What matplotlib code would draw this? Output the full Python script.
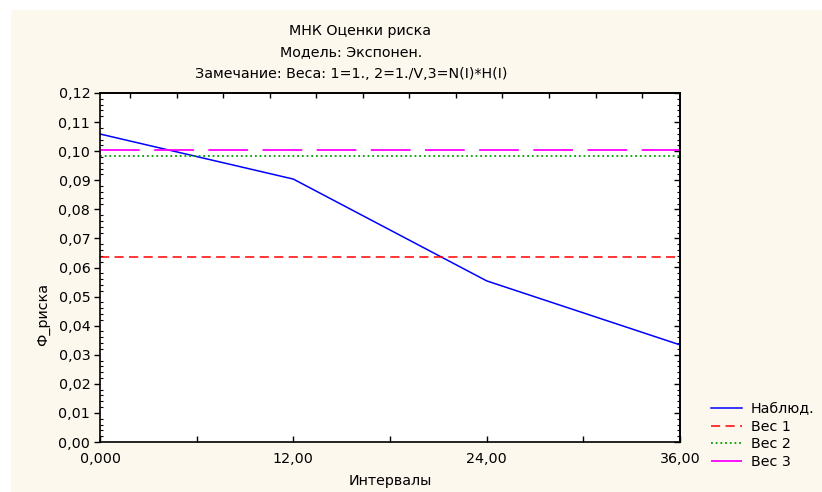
import numpy as np
import matplotlib
matplotlib.use("Agg")
import matplotlib.pyplot as plt
from matplotlib.patches import Rectangle
from matplotlib.ticker import FuncFormatter, MultipleLocator

plt.rcParams["font.family"] = ["DejaVu Sans"]
plt.rcParams["font.size"] = 10

# ── data ──────────────────────────────────────
intervals = [0, 12, 24, 36]
observed = [0.1059, 0.0904, 0.0554, 0.0334]
weight1 = [0.0637, 0.0637, 0.0637, 0.0637]
weight2 = [0.0983, 0.0983, 0.0983, 0.0983]
weight3 = [0.1004, 0.1004, 0.1004, 0.1004]

x_ticks = [0, 12, 24, 36]
x_tick_labels = ["0,000", "12,00", "24,00", "36,00"]

BG = "#FDF8EE"
FS = 10.3

fig = plt.figure(figsize=(8.22, 4.92), dpi=100)
fig.patch.set_facecolor("white")
fig.patches.append(Rectangle((11 / 822, 0), 1, 1 - 10 / 492,
                             transform=fig.transFigure, facecolor=BG,
                             edgecolor="none", zorder=-10))

ax = fig.add_axes([100 / 822, 50 / 492, 580 / 822, 349 / 492])
ax.set_facecolor("white")

ax.plot(intervals, observed, color="#0000FF", lw=1.1, label="Наблюд.")
ax.plot(intervals, weight1, color="#FF0000", lw=1.1, dashes=(6, 3.5), label="Вес 1")
ax.plot(intervals, weight2, color="#00A000", lw=1.3, dashes=(1, 1.6), label="Вес 2")
ax.plot(intervals, weight3, color="#FF00FF", lw=1.3, dashes=(22, 8), label="Вес 3")

ax.set_xlim(0, 36)
ax.set_ylim(0, 0.12)

ax.set_xticks(x_ticks, x_tick_labels)
ax.xaxis.set_minor_locator(MultipleLocator(6))
ax.yaxis.set_major_locator(MultipleLocator(0.01))
ax.yaxis.set_minor_locator(MultipleLocator(0.002))
ax.yaxis.set_major_formatter(FuncFormatter(lambda v, _: f"{v:.2f}".replace(".", ",")))

ax.tick_params(axis="x", which="both", direction="in", length=4, width=1, pad=7)
ax.tick_params(axis="y", which="major", direction="out", length=4, width=1, pad=3)
ax.tick_params(axis="y", which="minor", direction="in", length=2.5, width=0.8)
ax.tick_params(axis="both", labelsize=FS)

for s in ax.spines.values():
    s.set_linewidth(1.2)

# right and top frame ticks
ax_r = ax.secondary_yaxis("right")
ax_r.yaxis.set_major_locator(MultipleLocator(0.01))
ax_r.yaxis.set_minor_locator(MultipleLocator(0.002))
ax_r.tick_params(which="major", direction="in", length=4, width=1, labelright=False)
ax_r.tick_params(which="minor", direction="in", length=2.5, width=0.8)
ax_r.spines["right"].set_linewidth(1.2)

ax_t = ax.secondary_xaxis("top")
ax_t.set_xticks(np.arange(12) * 2.89 + 1.86)
ax_t.tick_params(direction="in", length=3.5, width=1, labeltop=False)
ax_t.spines["top"].set_linewidth(1.2)

ax.set_xlabel("Интервалы", fontsize=FS, labelpad=6)
ax.set_ylabel("Ф_риска", fontsize=FS)
ax.yaxis.set_label_coords(-0.086, 0.364)

fig.text(0.438, 1 - 31 / 492, "МНК Оценки риска", ha="center", va="center", fontsize=FS)
fig.text(0.427, 1 - 52 / 492, "Модель: Экспонен.", ha="center", va="center", fontsize=FS)
fig.text(0.427, 1 - 74 / 492, "Замечание: Веса: 1=1., 2=1./V,3=N(I)*H(I)",
         ha="center", va="center", fontsize=FS)

fig.legend(loc="upper left", bbox_to_anchor=(711 / 822, 1 - 402 / 492),
           frameon=False, fontsize=FS, handlelength=2.2, handletextpad=0.6,
           labelspacing=0.25, borderaxespad=0, borderpad=0)

fig.savefig("out.png", dpi=100, facecolor=fig.get_facecolor())
